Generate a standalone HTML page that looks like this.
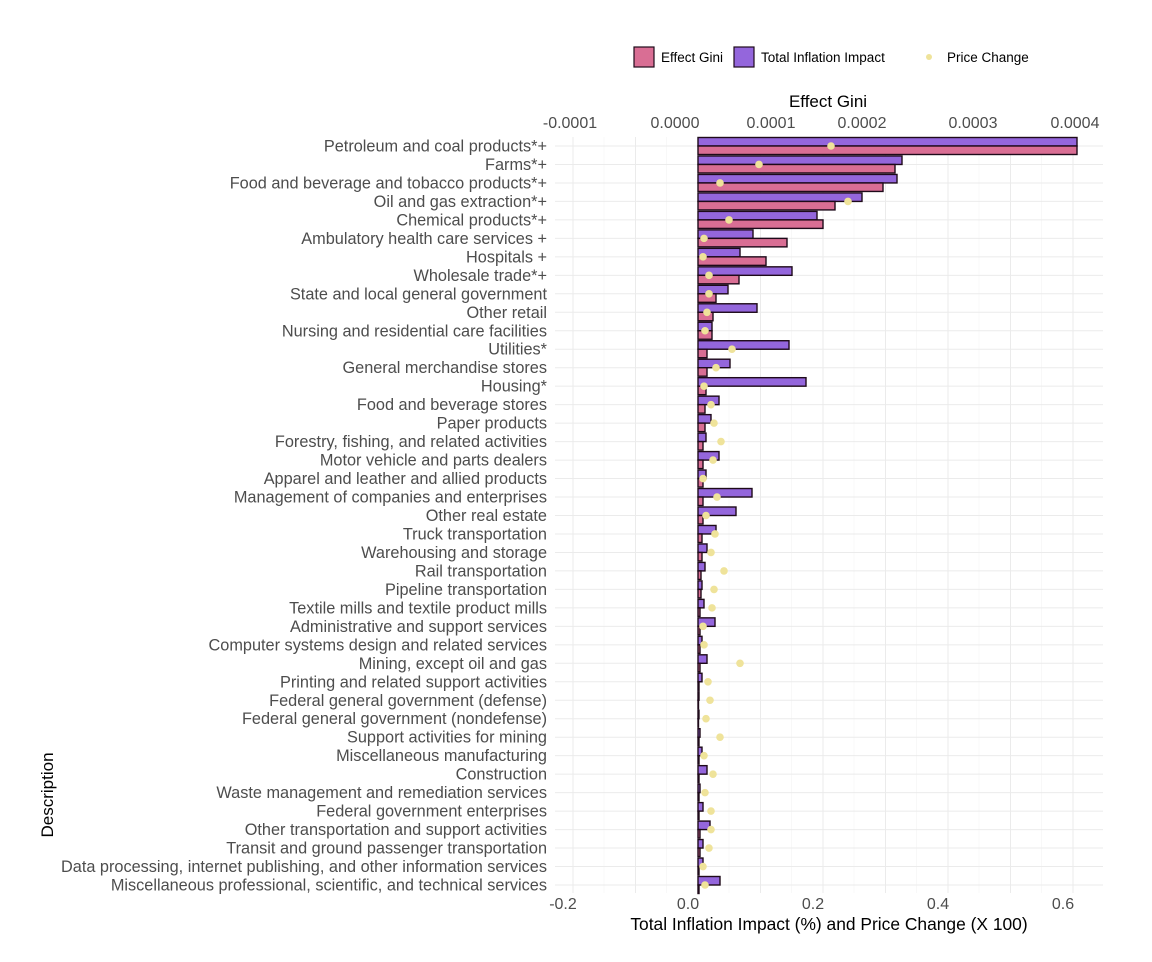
<!DOCTYPE html>
<html><head><meta charset="utf-8"><style>
html,body{margin:0;padding:0;background:#fff;}
svg{display:block;font-family:"Liberation Sans",Arial,sans-serif;}
</style></head><body>
<svg id="s" width="1152" height="962" xmlns="http://www.w3.org/2000/svg"></svg>
<script>
const rows=[
["Petroleum and coal products*+",1077,1077,831],
["Farms*+",902,895,759],
["Food and beverage and tobacco products*+",897,883,720],
["Oil and gas extraction*+",862,835,848],
["Chemical products*+",817,823,729],
["Ambulatory health care services +",753,787,704],
["Hospitals +",740,766,703],
["Wholesale trade*+",792,739,709],
["State and local general government",728,716,709],
["Other retail",757,713,707],
["Nursing and residential care facilities",712,712,705],
["Utilities*",789,707,732],
["General merchandise stores",730,707,716],
["Housing*",806,706,704],
["Food and beverage stores",719,705,711],
["Paper products",711,705,714],
["Forestry, fishing, and related activities",706,703,721],
["Motor vehicle and parts dealers",719,703,713],
["Apparel and leather and allied products",706,703,703],
["Management of companies and enterprises",752,703,717],
["Other real estate",736,703,706],
["Truck transportation",716,702,715],
["Warehousing and storage",707,702,711],
["Rail transportation",705,701,724],
["Pipeline transportation",702,701,714],
["Textile mills and textile product mills",704,700,712],
["Administrative and support services",715,700,703],
["Computer systems design and related services",702,700,704],
["Mining, except oil and gas",707,700,740],
["Printing and related support activities",702,699,708],
["Federal general government (defense)",699,698,710],
["Federal general government (nondefense)",699,698,706],
["Support activities for mining",700,699,720],
["Miscellaneous manufacturing",702,699,704],
["Construction",707,699,713],
["Waste management and remediation services",700,699,705],
["Federal government enterprises",703,699,711],
["Other transportation and support activities",710,700,711],
["Transit and ground passenger transportation",703,700,709],
["Data processing, internet publishing, and other information services",703,699,703],
["Miscellaneous professional, scientific, and technical services",720,699,705]];
let h='';
const x0=698,y0=146,dy=18.475;
for(let k=0;k<9;k++){const x=573+62.5*k;h+=`<line x1="${x}" y1="137" x2="${x}" y2="893" stroke="#ebebeb" stroke-width="1"/>`;}
for(let k=-1;k<8;k++){const x=604+62.5*k;if(x>555&&x<1103)h+=`<line x1="${x}" y1="137" x2="${x}" y2="893" stroke="#f4f4f4" stroke-width="0.6"/>`;}
rows.forEach((r,i)=>{const y=y0+i*dy;h+=`<line x1="555" y1="${y}" x2="1103" y2="${y}" stroke="#ebebeb" stroke-width="1"/>`;});
rows.forEach((r,i)=>{const y=y0+i*dy;
 h+=`<rect x="${x0}" y="${y-8.5}" width="${Math.max(r[1]-x0,0.5)}" height="8.5" fill="#9466dc" stroke="#1e0a1a" stroke-width="1.4"/>`;
 h+=`<rect x="${x0}" y="${y}" width="${Math.max(r[2]-x0,0.5)}" height="8.5" fill="#d96e94" stroke="#1e0a1a" stroke-width="1.4"/>`;
});
rows.forEach((r,i)=>{const y=y0+i*dy;
 h+=`<circle cx="${r[3]}" cy="${y}" r="3.8" fill="#efe39a"/>`;
 h+=`<text x="547" y="${y+5.5}" text-anchor="end" font-size="16.3" fill="#4d4d4d">${r[0]}</text>`;
});
[["-0.2",563],["0.0",688],["0.2",813],["0.4",938],["0.6",1063]].forEach(t=>{h+=`<text x="${t[1]}" y="909" text-anchor="middle" font-size="16" fill="#4d4d4d">${t[0]}</text>`;});
[["-0.0001",570],["0.0000",675],["0.0001",771],["0.0002",862],["0.0003",973],["0.0004",1075]].forEach(t=>{h+=`<text x="${t[1]}" y="128" text-anchor="middle" font-size="16" fill="#4d4d4d">${t[0]}</text>`;});
h+=`<text x="828" y="107" text-anchor="middle" font-size="17" fill="#000">Effect Gini</text>`;
h+=`<text x="829" y="930" text-anchor="middle" font-size="17.4" fill="#000">Total Inflation Impact (%) and Price Change (X 100)</text>`;
h+=`<text transform="translate(53,795) rotate(-90)" text-anchor="middle" font-size="17" fill="#000">Description</text>`;
h+=`<rect x="634" y="47" width="20" height="20" fill="#d96e94" stroke="#1e0a1a" stroke-width="1.2"/>`;
h+=`<text x="661" y="62" font-size="13.5" fill="#000">Effect Gini</text>`;
h+=`<rect x="734" y="47" width="20" height="20" fill="#9466dc" stroke="#1e0a1a" stroke-width="1.2"/>`;
h+=`<text x="761" y="62" font-size="13.5" fill="#000">Total Inflation Impact</text>`;
h+=`<circle cx="929" cy="57" r="3" fill="#efe39a"/>`;
h+=`<text x="947" y="62" font-size="13.5" fill="#000">Price Change</text>`;
document.getElementById('s').innerHTML=h;
</script>
</body></html>
